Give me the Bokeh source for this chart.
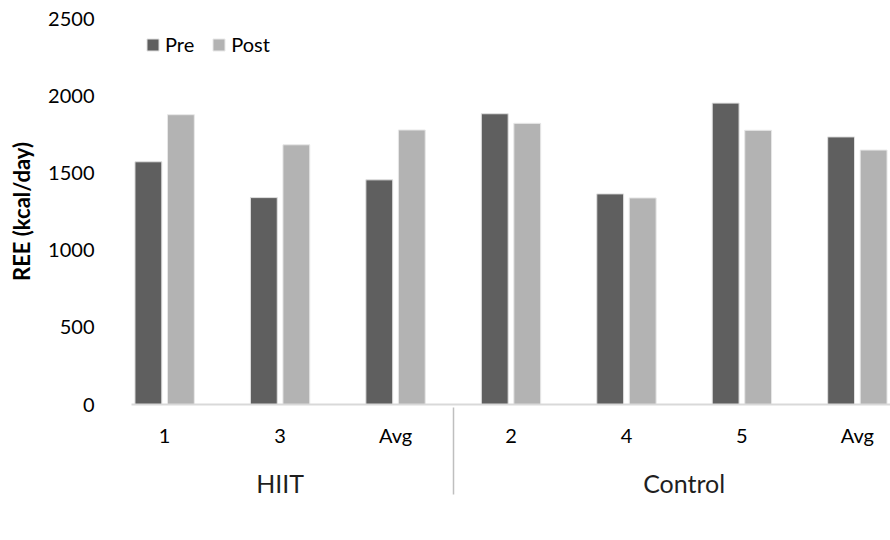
from bokeh.plotting import figure
from bokeh.models import FactorRange, Range1d, ColumnDataSource, FixedTicker
from bokeh.transform import dodge
from bokeh.embed import file_html
from bokeh.resources import INLINE

# ---- data ----
groups = ["HIIT", "HIIT", "HIIT", "Control", "Control", "Control", "Control"]
subjects = ["1", "3", "Avg", "2", "4", "5", "Avg"]
pre = [1572, 1340, 1455, 1883, 1364, 1952, 1733]
post = [1877, 1682, 1778, 1821, 1338, 1776, 1648]
y_ticks = [0, 500, 1000, 1500, 2000, 2500]
series_names = ["Pre", "Post"]
y_label = "REE (kcal/day)"

FONT = "Lato"
PRE_COLOR = "#5f5f5f"
POST_COLOR = "#b3b3b3"

factors = list(zip(groups, subjects))
source = ColumnDataSource(dict(x=factors, pre=pre, post=post))

x_range = FactorRange(*factors, group_padding=0, factor_padding=0,
                      range_padding=-0.213, range_padding_units="absolute")

p = figure(x_range=x_range, y_range=Range1d(0, 2500),
           width=890, height=540, output_backend="svg", toolbar_location=None,
           min_border_left=131, min_border_right=0, min_border_top=18,
           min_border_bottom=136)

p.outline_line_color = None
p.xgrid.visible = False
p.ygrid.visible = False
p.background_fill_color = "white"
p.border_fill_color = "white"

off = 0.1408
bw = 0.2325
p.vbar(x=dodge("x", -off, range=p.x_range), top="pre", width=bw, source=source,
       fill_color=PRE_COLOR, line_color="#e0e0e0", line_width=1,
       legend_label=series_names[0])
p.vbar(x=dodge("x", off, range=p.x_range), top="post", width=bw, source=source,
       fill_color=POST_COLOR, line_color="#e8e8e8", line_width=1,
       legend_label=series_names[1])

# y axis
yax = p.yaxis[0]
yax.ticker = FixedTicker(ticks=y_ticks)
yax.axis_line_color = None
yax.major_tick_line_color = None
yax.minor_tick_line_color = None
yax.major_tick_out = 0
yax.major_tick_in = 0
yax.major_label_standoff = 37
yax.major_label_text_font = FONT
yax.major_label_text_font_size = "20px"
yax.major_label_text_color = "#000000"
yax.axis_label = y_label
yax.axis_label_text_font = FONT
yax.axis_label_text_font_style = "bold"
yax.axis_label_text_font_size = "22px"
yax.axis_label_text_color = "#000000"
yax.axis_label_standoff = 10

# x axis
xax = p.xaxis[0]
xax.axis_line_color = "#d9d9d9"
xax.axis_line_width = 2
xax.major_tick_line_color = None
xax.minor_tick_line_color = None
xax.major_tick_out = 0
xax.major_tick_in = 0
xax.major_label_standoff = 18
xax.major_label_text_font = FONT
xax.major_label_text_font_size = "20px"
xax.major_label_text_color = "#000000"
xax.group_text_font = FONT
xax.group_text_font_size = "25px"
xax.group_text_font_style = "normal"
xax.group_text_color = "#1f1f1f"
xax.separator_line_color = "#bfbfbf"
xax.separator_line_width = 1.5

# legend
lg = p.legend[0]
lg.location = "top_left"
lg.orientation = "horizontal"
lg.margin = 14
lg.padding = 3
lg.spacing = 17
lg.label_standoff = 5
lg.glyph_width = 15
lg.glyph_height = 15
lg.label_text_font = FONT
lg.label_text_font_size = "20px"
lg.label_text_color = "#000000"
lg.border_line_color = None
lg.background_fill_alpha = 0

open("out.html", "w").write(file_html(p, INLINE))
